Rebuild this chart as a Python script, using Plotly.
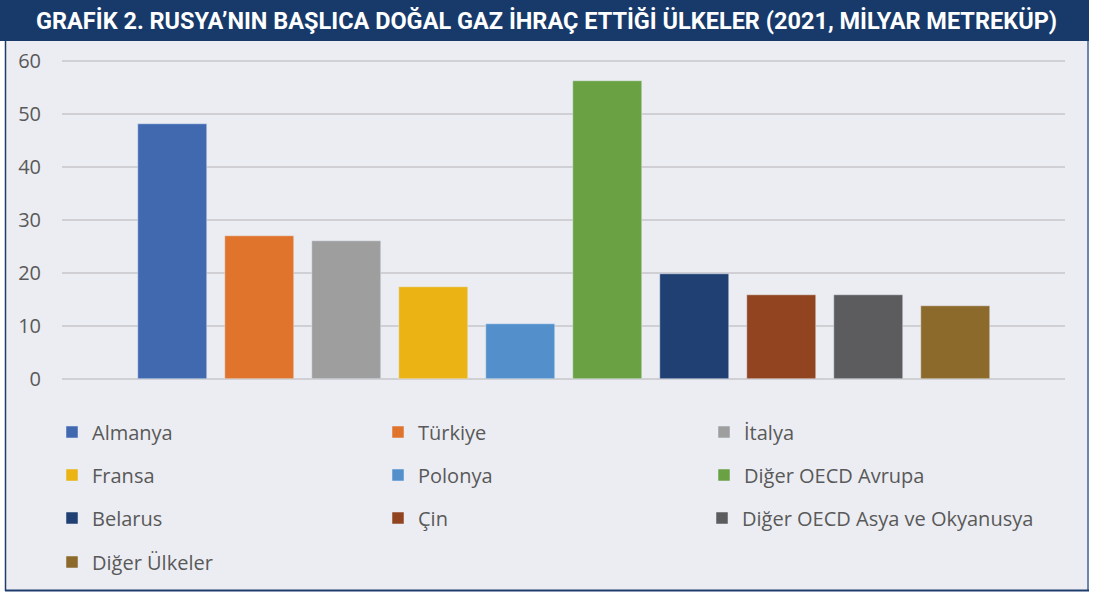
import plotly.graph_objects as go

categories = ["Almanya", "Türkiye", "İtalya", "Fransa", "Polonya", "Diğer OECD Avrupa",
              "Belarus", "Çin", "Diğer OECD Asya ve Okyanusya", "Diğer Ülkeler"]
values = [48, 27, 26, 17.3, 10.4, 56.2, 19.8, 15.9, 15.9, 13.8]
colors = ["#4169B0", "#E0742C", "#9E9E9E", "#EBB313", "#5390CB", "#69A143",
          "#203F72", "#924421", "#5C5C5E", "#8C6A2B"]
y_ticks = [0, 10, 20, 30, 40, 50, 60]
title_text = "GRAFİK 2. RUSYA’NIN BAŞLICA DOĞAL GAZ İHRAÇ ETTİĞİ ÜLKELER (2021, MİLYAR METREKÜP)"

W, H = 1095, 595
ML, MR, MT, MB = 62, 30, 59, 214
PW, PH = W - ML - MR, H - MT - MB

def X(px):
    return (px - ML) / PW

def Y(py):
    return (H - MB - py) / PH

# legend assignment: rows of three; the long third entry of row 3 gets its own legend
legend_of = ["legend", "legend", "legend", "legend2", "legend2", "legend2",
             "legend3", "legend3", "legend5", "legend4"]
fig = go.Figure()
for c, v, col, lg in zip(categories, values, colors, legend_of):
    fig.add_trace(go.Bar(x=[c], y=[v], name=c, marker_color=col, width=0.79,
                         legend=lg, hoverinfo="skip"))

COL_STEP = 323
row_y = {"legend": 432, "legend2": 475, "legend3": 518, "legend4": 562, "legend5": 518}
row_x = {"legend": 52, "legend2": 52, "legend3": 52, "legend4": 52, "legend5": 56 + 2 * COL_STEP}
legend_font = dict(family="Open Sans", size=20, color="#595959")
legends = {}
for name in row_y:
    legends[name] = dict(orientation="h", entrywidth=COL_STEP - 42, entrywidthmode="pixels",
                         xanchor="left", yanchor="middle", bgcolor="rgba(0,0,0,0)",
                         font=legend_font, itemclick=False, itemdoubleclick=False,
                         x=X(row_x[name]), y=Y(row_y[name]))
legends["legend5"]["entrywidth"] = 0

shapes = [
    # chart background
    dict(type="rect", xref="paper", yref="paper", x0=X(5), x1=X(1088), y0=Y(591), y1=Y(40),
         fillcolor="#ECEDF2", line=dict(width=0), layer="below"),
    # border
    dict(type="line", xref="paper", yref="paper", x0=X(5.5), x1=X(5.5), y0=Y(591), y1=Y(40),
         line=dict(color="#1F3C6E", width=1.5), layer="below"),
    dict(type="line", xref="paper", yref="paper", x0=X(1088), x1=X(1088), y0=Y(591), y1=Y(40),
         line=dict(color="#6F86AC", width=2), layer="below"),
    dict(type="line", xref="paper", yref="paper", x0=X(5), x1=X(1089), y0=Y(590.5), y1=Y(590.5),
         line=dict(color="#1F3C6E", width=2), layer="below"),
    # title band
    dict(type="rect", xref="paper", yref="paper", x0=X(0), x1=X(1089), y0=Y(41), y1=Y(0),
         fillcolor="#173A6B", line=dict(width=0), layer="below"),
]

fig.update_layout(
    width=W, height=H,
    margin=dict(l=ML, r=MR, t=MT, b=MB, autoexpand=False),
    paper_bgcolor="white", plot_bgcolor="rgba(0,0,0,0)",
    barmode="overlay", bargap=0,
    shapes=shapes,
    annotations=[dict(text="<b>" + title_text + "</b>", xref="paper", yref="paper",
                      x=X(546), y=Y(21), xanchor="center", yanchor="middle", showarrow=False,
                      font=dict(family="Roboto", size=23.5, color="white"))],
    xaxis=dict(range=[-1.27, 10.26], showticklabels=False, showgrid=False, zeroline=False,
               showline=False, fixedrange=True),
    yaxis=dict(range=[-0.3, 60.3], tickvals=y_ticks, showgrid=True, gridcolor="#CFCFD4",
               gridwidth=1.7, zeroline=False, showline=False,
               tickfont=dict(family="Open Sans", size=20, color="#595959"),
               ticklabelstandoff=20, fixedrange=True),
    showlegend=True,
    **legends,
)

fig.write_html("out.html", config={"displayModeBar": False},
               post_script="document.body.style.margin='0px';")
